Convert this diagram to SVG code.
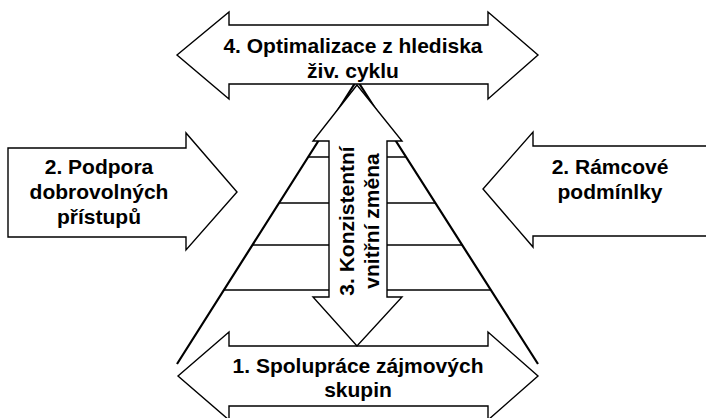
<svg xmlns="http://www.w3.org/2000/svg" width="706" height="418" viewBox="0 0 706 418">
<style>
.arrow{fill:#fff;stroke:#000;stroke-width:1.4;stroke-linejoin:miter}
.side{fill:none;stroke:#000;stroke-width:2.2}
.rung{fill:none;stroke:#000;stroke-width:1.4}
.lbl{font-family:"Liberation Sans",Arial,Helvetica,sans-serif;font-weight:bold;font-size:21px;fill:#000;text-anchor:middle}
</style>
<rect width="706" height="418" fill="#fff"/>
<g id="pyramid">
<polyline class="side" points="177,364 357,80 538,364"/>
<line class="rung" x1="308" y1="157" x2="406" y2="157"/>
<line class="rung" x1="279" y1="203" x2="435" y2="203"/>
<line class="rung" x1="252" y1="245" x2="462" y2="245"/>
<line class="rung" x1="224" y1="290" x2="491" y2="290"/>
</g>
<g id="connectors"/>
<g id="node4">
<polygon class="arrow" points="177,55 229,12 229,25 488,25 488,12 538,55 488,99 488,84 229,84 229,99"/>
<text class="lbl" x="353" y="53">4. Optimalizace z hlediska</text>
<text class="lbl" x="353" y="78">živ. cyklu</text>
</g>
<g id="node1">
<polygon class="arrow" points="178,376 229,332 229,346 488,346 488,332 538,376 488,420 488,406 229,406 229,420"/>
<text class="lbl" x="358" y="373">1. Spolupráce zájmových</text>
<text class="lbl" x="358" y="397">skupin</text>
</g>
<g id="node3">
<polygon class="arrow" points="357,85 402,141 387,141 387,297 402,297 357,346 313,297 329,297 329,141 313,141"/>
<g transform="translate(354,221) rotate(-90)">
<text class="lbl" x="0" y="0">3. Konzistentní</text>
<text class="lbl" x="0" y="25">vnitřní změna</text>
</g>
</g>
<g id="node2left">
<polygon class="arrow" points="8,148 186,148 186,133 237,192 186,250 186,237 8,237"/>
<text class="lbl" x="99" y="174">2. Podpora</text>
<text class="lbl" x="99" y="199">dobrovolných</text>
<text class="lbl" x="99" y="224">přístupů</text>
</g>
<g id="node2right">
<polygon class="arrow" points="712,146 533,146 533,132 483,189 533,247 533,236 712,236"/>
<text class="lbl" x="610" y="174">2. Rámcové</text>
<text class="lbl" x="610" y="199">podmínlky</text>
</g>
</svg>
